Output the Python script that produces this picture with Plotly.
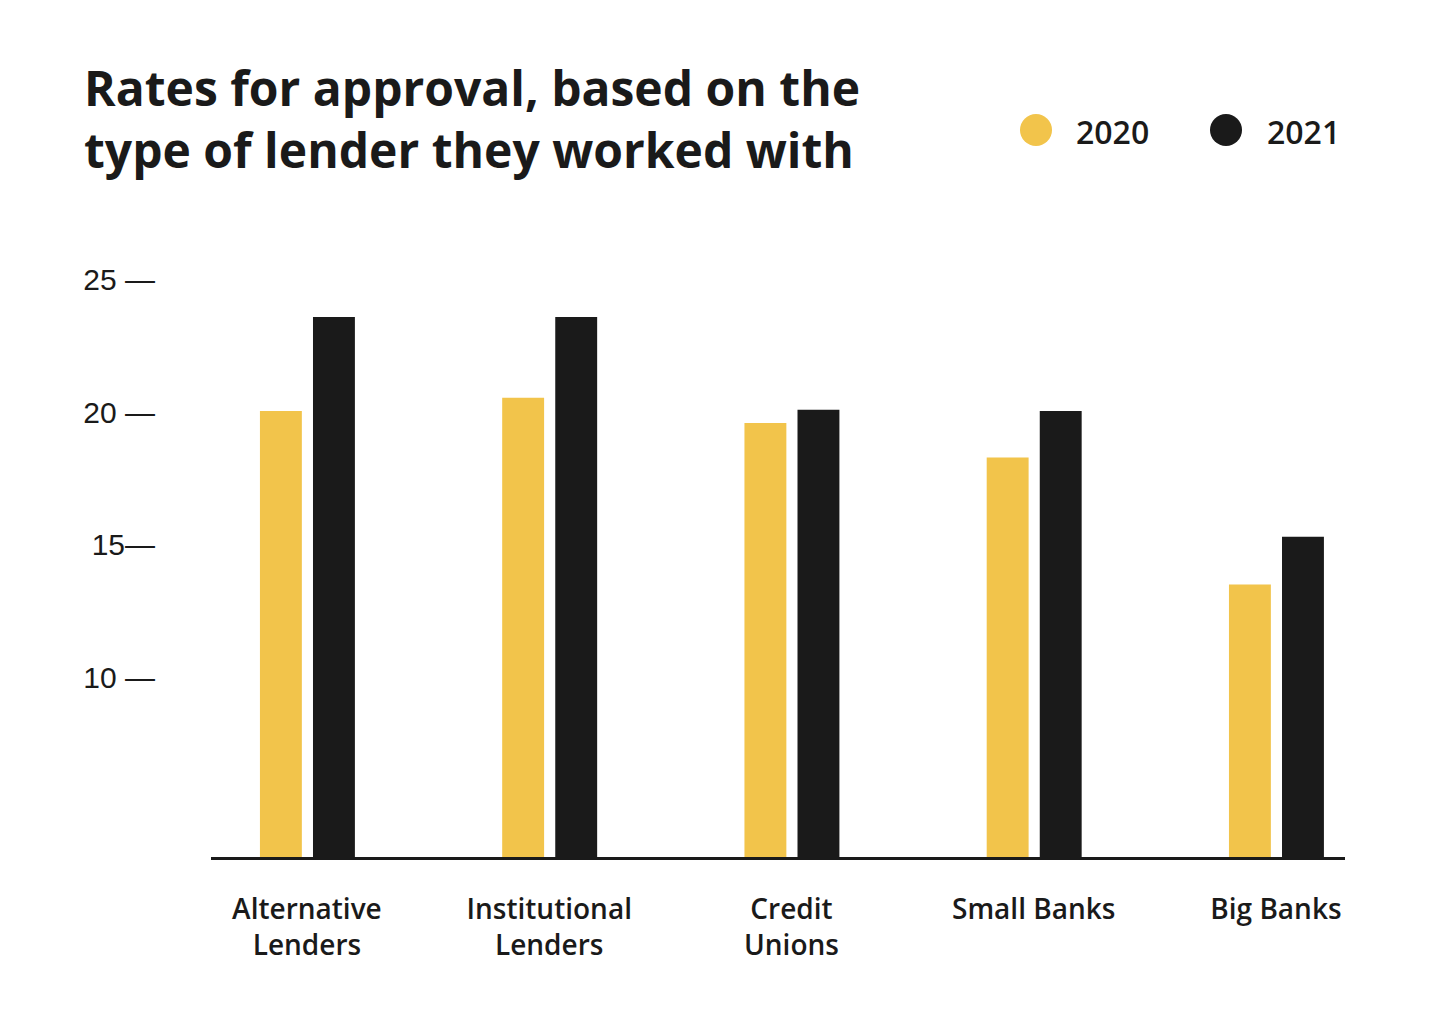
import plotly.graph_objects as go

categories = ["Alternative<br>Lenders", "Institutional<br>Lenders", "Credit<br>Unions",
              "Small Banks", "Big Banks"]
values_2020 = [20.05, 20.55, 19.6, 18.3, 13.5]
values_2021 = [23.6, 23.6, 20.1, 20.05, 15.3]
series_names = ["2020", "2021"]
ytick_vals = [10, 15, 20, 25]
ytick_text = ["10 —", "15—", "20 —", "25 —"]

YELLOW = "#F2C44B"
BLACK = "#1A1A1A"
colors = [YELLOW, BLACK]

# page body has an 8px margin, so work in page pixels minus 8
OFF = 8
W, H = 1429 - 2 * OFF, 1022 - 2 * OFF
L, R = 211 - OFF, W - (1345 - OFF)
T, B = 240 - OFF, H - (857 - OFF)
pw, ph = W - L - R, H - T - B


def px_x(x):
    return (x - OFF - L) / pw


def px_y(y):
    return (H - B - (y - OFF)) / ph


fig = go.Figure()
fig.add_trace(go.Bar(x=categories, y=values_2020, name=series_names[0],
                     marker=dict(color=YELLOW, line=dict(width=0)),
                     width=0.173, offset=-0.194, showlegend=False))
fig.add_trace(go.Bar(x=categories, y=values_2021, name=series_names[1],
                     marker=dict(color=BLACK, line=dict(width=0)),
                     width=0.173, offset=0.025, showlegend=False))

# legend drawn by hand (plotly caps legend marker size)
shapes = []
annotations = []
for name, col, cx, tx in zip(series_names, colors, [1036, 1226], [1074, 1265]):
    shapes.append(dict(type="circle", xref="paper", yref="paper",
                       x0=px_x(cx - 16), x1=px_x(cx + 16),
                       y0=px_y(130 + 16), y1=px_y(130 - 16),
                       fillcolor=col, line=dict(width=0)))
    annotations.append(dict(text=name, xref="paper", yref="paper",
                            x=px_x(tx), y=px_y(131), xanchor="left", yanchor="middle",
                            showarrow=False,
                            font=dict(family="Open Sans", size=32, color=BLACK, weight=600)))

annotations.append(dict(text="Rates for approval, based on the<br>type of lender they worked with",
                        xref="paper", yref="paper", x=px_x(82), y=px_y(53),
                        xanchor="left", yanchor="top", align="left", showarrow=False,
                        font=dict(family="Open Sans", size=48, color=BLACK, weight=700)))

fig.update_layout(
    width=W, height=H,
    margin=dict(l=L, r=R, t=T, b=B),
    plot_bgcolor="white", paper_bgcolor="white",
    barmode="overlay",
    shapes=shapes,
    annotations=annotations,
    xaxis=dict(type="category", range=[-0.396, 4.285], showgrid=False,
               showline=True, linecolor=BLACK, linewidth=3, ticks="",
               tickfont=dict(family="Open Sans", size=28, color=BLACK, weight=600),
               ticklabelstandoff=25),
    yaxis=dict(range=[3.21, 26.51], showgrid=False, zeroline=False, showline=False,
               tickvals=ytick_vals, ticktext=ytick_text, ticks="",
               tickfont=dict(family="Liberation Sans", size=30, color=BLACK),
               ticklabelstandoff=55),
)

fig.write_html("out.html")
